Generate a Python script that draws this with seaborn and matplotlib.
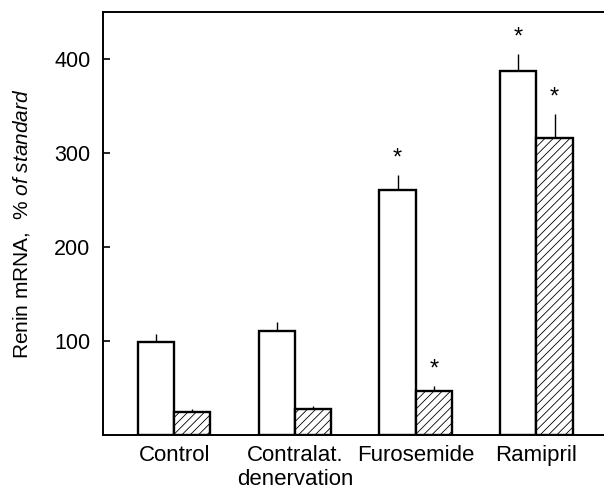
import seaborn as sns
import matplotlib.pyplot as plt
import pandas as pd

# ======================================
# DATA
# ======================================

groups = ["Control", "Contralat.\ndenervation", "Furosemide", "Ramipril"]
series = ["open", "hatched"]

open_mean = [99, 111, 261, 387]
open_err = [8, 9, 16, 18]
hatched_mean = [24, 28, 47, 316]
hatched_err = [4, 3, 5, 25]

# significance flags
open_star = [False, False, True, True]
hatched_star = [False, False, True, True]

y_ticks = [100, 200, 300, 400]

df = pd.DataFrame(
    {
        "group": groups * 2,
        "series": [series[0]] * 4 + [series[1]] * 4,
        "value": open_mean + hatched_mean,
    }
)

# ======================================
# PLOT
# ======================================

sns.set_style("ticks")
plt.rcParams["font.family"] = ["Liberation Sans", "DejaVu Sans"]
plt.rcParams["text.color"] = "black"
plt.rcParams["axes.labelcolor"] = "black"
plt.rcParams["xtick.color"] = "black"
plt.rcParams["ytick.color"] = "black"
plt.rcParams["hatch.linewidth"] = 0.6
plt.rcParams["mathtext.fontset"] = "custom"
plt.rcParams["mathtext.rm"] = "Liberation Sans"
plt.rcParams["mathtext.it"] = "Liberation Sans:italic"

fig = plt.figure(figsize=(6.04, 4.91), dpi=100)
ax = fig.add_axes([103 / 604, 56 / 491, 1 - 103 / 604, 423 / 491])

sns.barplot(
    data=df,
    x="group",
    y="value",
    hue="series",
    order=groups,
    hue_order=series,
    palette=["white", "white"],
    edgecolor="black",
    linewidth=1.7,
    width=0.6,
    errorbar=None,
    legend=False,
    ax=ax,
)

# bars come out ordered by hue, then by group
bars = ax.patches
errs = open_err + hatched_err
stars = open_star + hatched_star
for i, bar in enumerate(bars[:8]):
    if i >= 4:
        bar.set_hatch("////")
    cx = bar.get_x() + bar.get_width() / 2
    top = bar.get_height()
    ax.vlines(cx, top, top + errs[i], color="black", linewidth=1.0, zorder=1)
    if stars[i]:
        ax.annotate(
            "*",
            xy=(cx, top + errs[i]),
            xytext=(0, 4),
            textcoords="offset points",
            ha="center",
            va="bottom",
            fontsize=17,
            color="black",
        )

ax.set_xlim(-0.59, 3.56)
ax.set_ylim(0, 450)
ax.set_yticks(y_ticks)
ax.tick_params(axis="y", direction="in", length=5, width=1.2, labelsize=15.5, pad=9,
               colors="black")
ax.tick_params(axis="x", length=0, labelsize=16, pad=7, colors="black")

for side in ["left", "top", "bottom"]:
    ax.spines[side].set_linewidth(1.4)
    ax.spines[side].set_color("black")
ax.spines["right"].set_visible(False)

ax.set_xlabel("")
ax.set_ylabel(r"Renin mRNA,  $\mathit{\%\ of\ standard}$", fontsize=15, labelpad=16,
              color="black")

plt.savefig("out.png", dpi=100)
plt.close()
